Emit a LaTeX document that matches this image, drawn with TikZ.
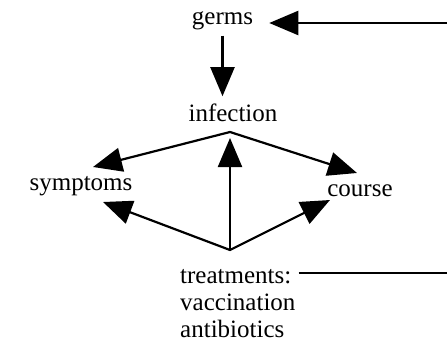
\documentclass[tikz,border=0pt]{standalone}
\usepackage{fontspec}
\setmainfont{Liberation Serif}
\usetikzlibrary{arrows.meta}
\begin{document}
\begin{tikzpicture}[x=1pt,y=-1pt,
  lbl/.style={font=\fontsize{25}{27}\selectfont, inner sep=0pt, anchor=base},
  tip/.tip={Triangle[length=29pt,width=24pt]},
  conn/.style={line width=2.2pt, -tip},
  thin/.style={line width=1.5pt}]
\useasboundingbox (0,0) rectangle (447,342);
\node[lbl] (germs) at (222.5,25) {germs};
\node[lbl] (infection) at (233,122) {infection};
\node[lbl] (symptoms) at (81,190) {symptoms};
\node[lbl] (course) at (360,196) {course};
\node[lbl, anchor=base west, align=left] (treat) at (180,337) {treatments:\\vaccination\\antibiotics};
\coordinate (top) at (230,132);
\coordinate (bot) at (230,250);
\coordinate (r1) at (447,23);
\coordinate (r2) at (447,273);
\coordinate (tS1) at (93,167);
\coordinate (tC1) at (357,173);
\coordinate (tS2) at (103,202);
\coordinate (tC2) at (330,200);
\draw[conn, shorten >=16pt] (r1) -- (r1 -| germs.east);
\draw[conn, shorten <=5pt, shorten >=8pt] (germs.south) -- (germs.south |- infection.north);
\draw[conn, tip-tip] (tS1) -- (top) -- (tC1);
\draw[conn, tip-tip] (tS2) -- (bot) -- (tC2);
\draw[conn, shorten >=6pt] (bot) -- (top);
\draw[thin, shorten <=3pt] (r2 -| treat.east) -- (r2);
\end{tikzpicture}
\end{document}
